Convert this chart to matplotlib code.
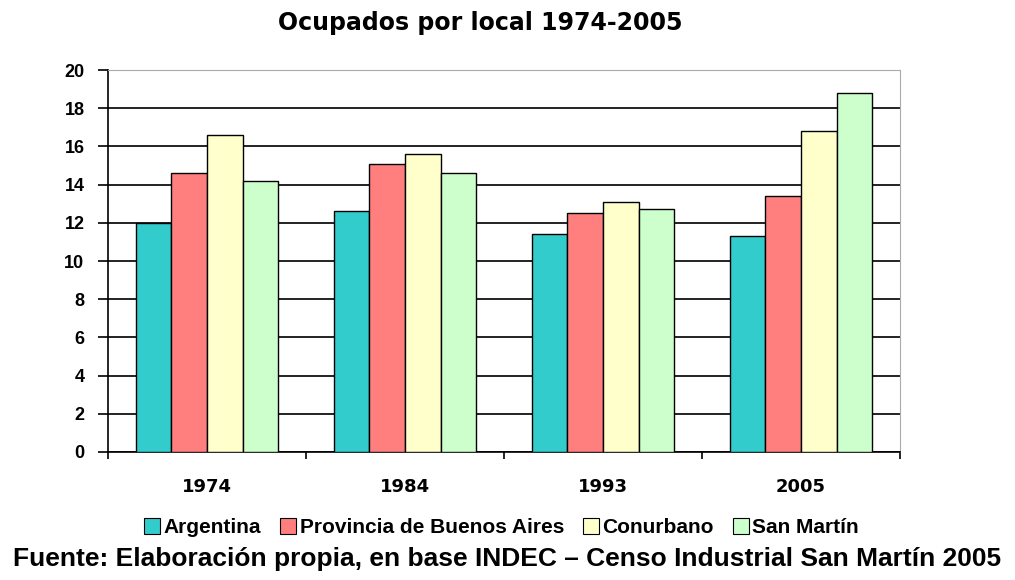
import numpy as np
import matplotlib.pyplot as plt
from matplotlib.patches import Patch

years = ['1974', '1984', '1993', '2005']
series = ['Argentina', 'Provincia de Buenos Aires', 'Conurbano', 'San Martín']
argentina = [12.0, 12.6, 11.4, 11.3]
provincia = [14.6, 15.1, 12.5, 13.4]
conurbano = [16.6, 15.6, 13.1, 16.8]
san_martin = [14.2, 14.6, 12.7, 18.8]
colors = ['#33CCCC', '#FF7F7F', '#FFFFCC', '#CCFFCC']

plt.rcParams['font.family'] = ['Liberation Sans', 'DejaVu Sans']

fig = plt.figure(figsize=(10.15, 5.8), dpi=100)
ax = fig.add_axes([0.1064, 0.2207, 0.7803, 0.6586])

x = np.arange(len(years))
w = 0.18
values = [argentina, provincia, conurbano, san_martin]
for i, vals in enumerate(values):
    ax.bar(x + (i - 1.5) * w, vals, width=w, color=colors[i],
           edgecolor='black', linewidth=1.0, zorder=3)

ax.set_xlim(-0.5, 3.5)
ax.set_ylim(0, 20)
ax.set_yticks(range(0, 21, 2))
ax.set_yticklabels([str(v) for v in range(0, 21, 2)], fontsize=13, fontweight='bold')
ax.yaxis.grid(True, color='#222222', linewidth=1.4, zorder=0)
ax.set_axisbelow(True)

ax.set_xticks(x)
ax.set_xticklabels(years, fontsize=13, fontweight='bold', family='DejaVu Sans')
ax.tick_params(axis='x', length=0, pad=19)
ax.set_xticks(np.arange(-0.5, 3.6, 1), minor=True)
ax.tick_params(axis='x', which='minor', length=5, width=1.2, direction='out')
ax.tick_params(axis='y', length=7, width=1.2, direction='out', pad=10)

ax.spines['left'].set_color('black')
ax.spines['left'].set_linewidth(1.2)
ax.spines['bottom'].set_color('black')
ax.spines['bottom'].set_linewidth(1.2)
ax.spines['top'].set_color('#aaaaaa')
ax.spines['right'].set_color('#aaaaaa')

fig.text(0.473, 0.96, 'Ocupados por local 1974-2005', ha='center', va='center',
         fontsize=17, fontweight='bold', family='DejaVu Sans')

handles = [Patch(facecolor=c, edgecolor='black', linewidth=0.8) for c in colors]
fig.legend(handles, series, loc='center', bbox_to_anchor=(0.494, 0.09), ncol=4,
           frameon=False, handlelength=0.8, handleheight=0.8,
           handletextpad=0.15, columnspacing=0.9, prop={'weight': 'bold', 'size': 15})

fig.text(0.5, 0.036, 'Fuente: Elaboración propia, en base INDEC – Censo Industrial San Martín 2005',
         ha='center', va='center', fontsize=19, fontweight='bold')

fig.savefig('out.png', dpi=100)
